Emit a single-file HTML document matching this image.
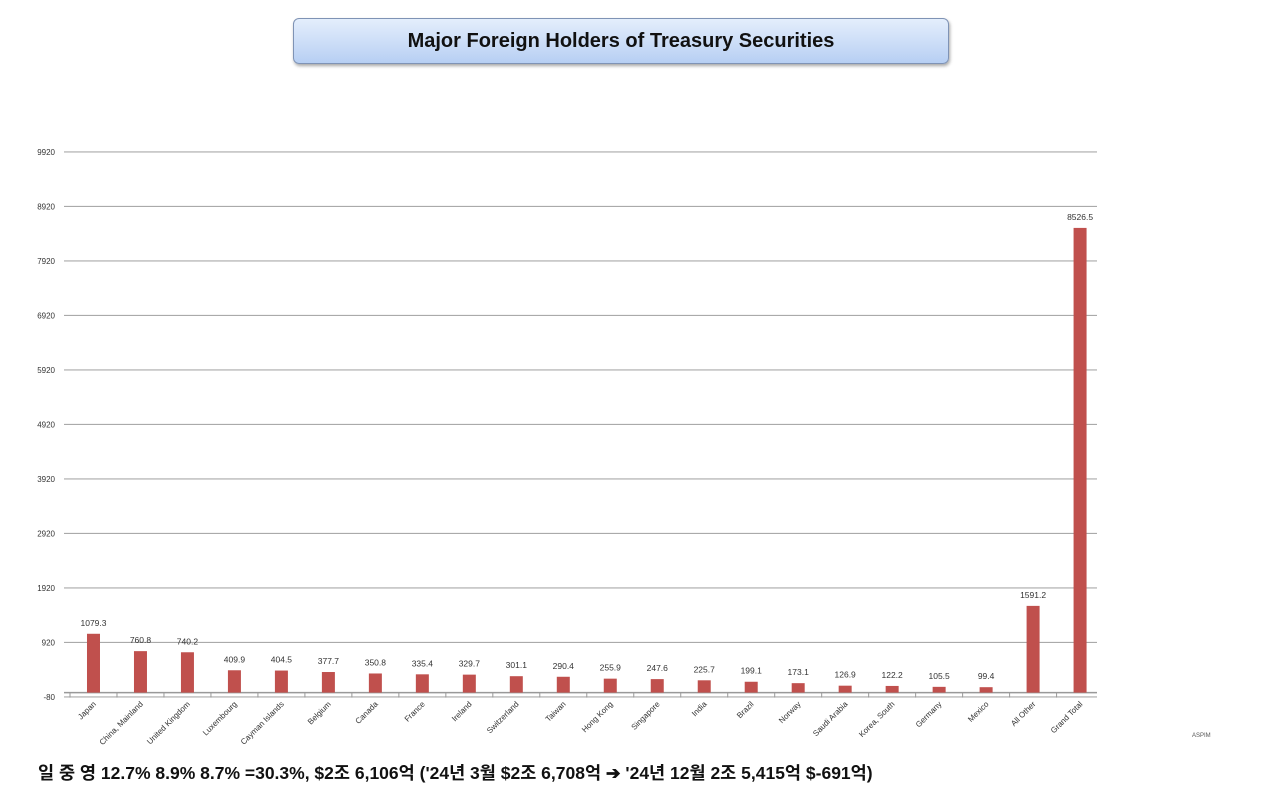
<!DOCTYPE html>
<html><head><meta charset="utf-8"><style>
body{margin:0;width:1280px;height:793px;background:#fff;position:relative;overflow:hidden;font-family:"Liberation Sans","Noto Sans CJK KR",sans-serif}
#title{position:absolute;left:293px;top:18px;width:654px;height:44px;border:1px solid #7f93b5;border-radius:6px;background:linear-gradient(#e4eefc,#b7cff3);box-shadow:1px 2px 3px rgba(0,0,0,.35);text-align:center;line-height:44px;font-weight:bold;font-size:20px;color:#111}
#note{position:absolute;left:38px;top:760px;font-size:17.5px;font-weight:bold;color:#111;white-space:nowrap}
#aspim{position:absolute;left:1192px;top:733px;font-size:6px;color:#555}
</style></head><body>
<div id="title">Major Foreign Holders of Treasury Securities</div>
<svg id="chart" width="1280" height="793" style="position:absolute;left:0;top:0"></svg>
<div id="note">일 중 영 12.7% 8.9% 8.7% =30.3%, $2조 6,106억 ('24년 3월 $2조 6,708억 ➔ '24년 12월 2조 5,415억 $-691억)</div>
<div id="aspim">ASPIM</div>
<script>
const categories=["Japan","China, Mainland","United Kingdom","Luxembourg","Cayman Islands","Belgium","Canada","France","Ireland","Switzerland","Taiwan","Hong Kong","Singapore","India","Brazil","Norway","Saudi Arabia","Korea, South","Germany","Mexico","All Other","Grand Total"];
const values=[1079.3,760.8,740.2,409.9,404.5,377.7,350.8,335.4,329.7,301.1,290.4,255.9,247.6,225.7,199.1,173.1,126.9,122.2,105.5,99.4,1591.2,8526.5];
const yTicks=[-80,920,1920,2920,3920,4920,5920,6920,7920,8920,9920];
const NS="http://www.w3.org/2000/svg",svg=document.getElementById('chart');
const y=v=>692.6-v*0.0545;
const x0=70,step=46.98,bw=13,xR=1097;
const xc=i=>x0+step*(i+0.5);
function mk(t,a){const e=document.createElementNS(NS,t);for(const k in a)e.setAttribute(k,a[k]);svg.appendChild(e);return e;}
yTicks.forEach(t=>{
 const l=mk('line',{x1:64,x2:xR,y1:y(t),y2:y(t),stroke:'#aaa','stroke-width':1.2});
 
 
 const tx=mk('text',{x:55,y:y(t)+3,'text-anchor':'end','font-size':8,fill:'#333'});
 tx.textContent=t;
 
 
});
const ax=mk('line',{x1:64,x2:xR,y1:y(0),y2:y(0),stroke:'#999','stroke-width':1.5});


for(let i=0;i<categories.length;i++){const tk=mk('line',{x1:x0+step*i,x2:x0+step*i,y1:y(0),y2:y(0)+5,stroke:'#999'});
 
 }
categories.forEach((c,i)=>{
 const b=mk('rect',{x:xc(i)-bw/2,y:y(values[i]),width:bw,height:y(0)-y(values[i]),fill:'#c0504d'});
 
 
 const v=mk('text',{x:xc(i),y:y(values[i])-8,'text-anchor':'middle','font-size':8.5,fill:'#333'});
 v.textContent=values[i];
 
 
 const cx=xc(i)+3,cy=y(0)+12;
 const t=mk('text',{x:cx,y:cy,'text-anchor':'end','font-size':8,fill:'#333',transform:`rotate(-45 ${cx} ${cy})`});
 t.textContent=c;
 
 
});
</script>
</body></html>
